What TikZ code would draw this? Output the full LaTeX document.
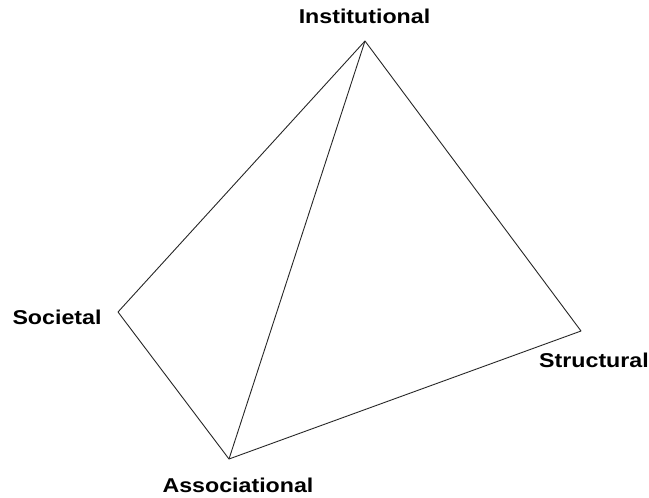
\documentclass[tikz,border=0pt]{standalone}
\usepackage{fontspec}
\setmainfont{Liberation Sans}
\begin{document}
\begin{tikzpicture}[x=1pt,y=-1pt,
  lbl/.style={anchor=base,inner sep=0pt,font=\fontsize{20}{20}\selectfont\bfseries},
  edge/.style={draw=black!85,line width=0.9pt,line join=round}]
\useasboundingbox (0,0) rectangle (649,498);
\coordinate (I) at (365,41);
\coordinate (So) at (118,312);
\coordinate (A) at (229,459);
\coordinate (St) at (581,331);
\node[lbl] (tI) at (364.5,23) {\scalebox{1.16}[1]{Institutional}};
\node[lbl] (tSo) at (57,324) {\scalebox{1.16}[1]{Societal}};
\node[lbl] (tSt) at (594,367) {\scalebox{1.16}[1]{Structural}};
\node[lbl] (tA) at (238,492) {\scalebox{1.16}[1]{Associational}};
\draw[edge] (I) -- (So) -- (A) -- (St) -- cycle;
\draw[edge] (I) -- (A);
\end{tikzpicture}
\end{document}
